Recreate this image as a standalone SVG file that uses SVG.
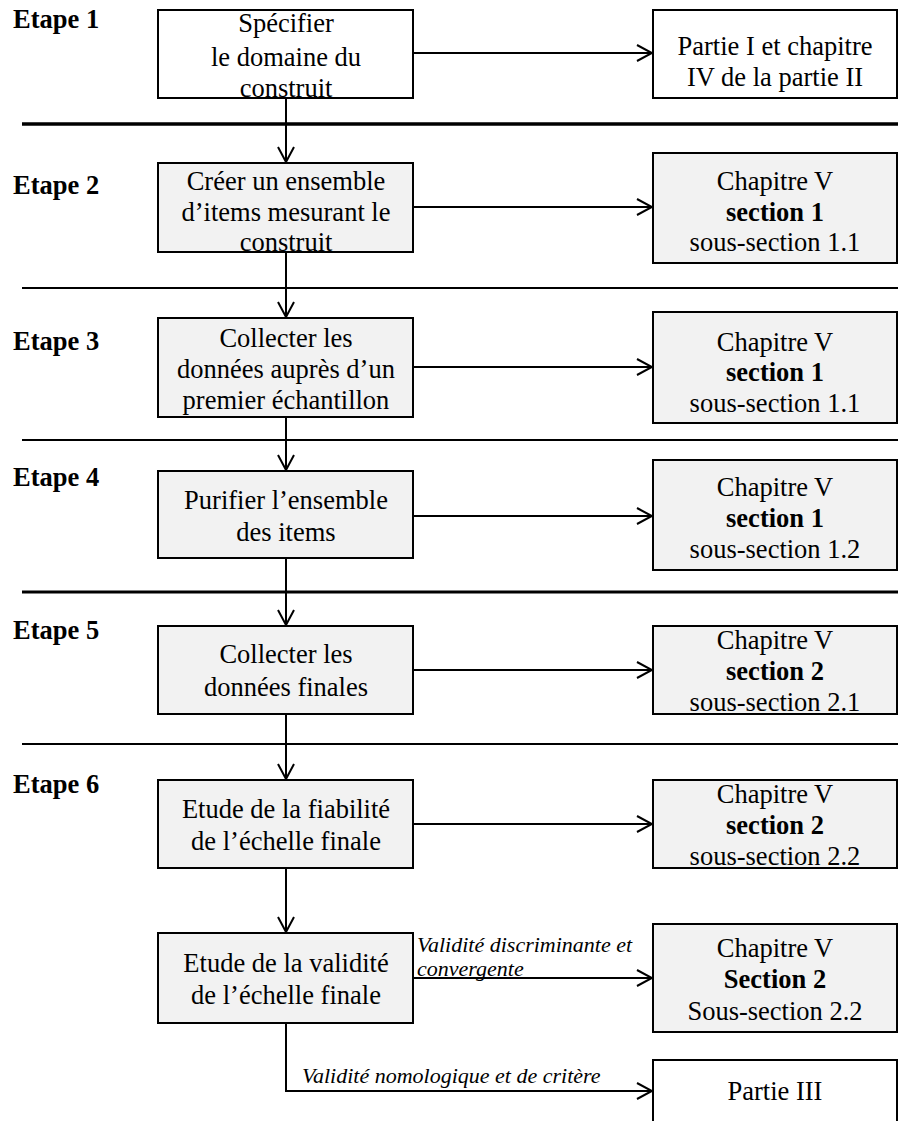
<svg xmlns="http://www.w3.org/2000/svg" width="898" height="1121" viewBox="0 0 898 1121">
<defs>
<marker id="arr" markerWidth="18" markerHeight="20" refX="16" refY="9" orient="auto" markerUnits="userSpaceOnUse">
<path d="M1,1 L16,9 L1,17" fill="none" stroke="#000" stroke-width="2"/>
</marker>
<style>
.box{fill:#f2f2f2;stroke:#000;stroke-width:2}
.wbox{fill:#fff;stroke:#000;stroke-width:2}
.t{font-family:"Liberation Serif","Times New Roman",serif;font-size:26.5px;fill:#000;text-anchor:middle}
.b{font-weight:bold}
.step{font-family:"Liberation Serif","Times New Roman",serif;font-size:26.5px;font-weight:bold;fill:#000}
.lbl{font-family:"Liberation Serif","Times New Roman",serif;font-size:22px;font-style:italic;fill:#000}
.c{fill:none;stroke:#000;stroke-width:2}
.sep{stroke:#000}
</style>
</defs>
<rect width="898" height="1121" fill="#fff"/>

<g id="separators">
<line class="sep" x1="22" y1="124" x2="898" y2="124" stroke-width="3.5"/>
<line class="sep" x1="22" y1="288" x2="898" y2="288" stroke-width="1.8"/>
<line class="sep" x1="22" y1="440" x2="898" y2="440" stroke-width="2"/>
<line class="sep" x1="22" y1="592" x2="898" y2="592" stroke-width="3"/>
<line class="sep" x1="22" y1="744" x2="898" y2="744" stroke-width="1.8"/>
</g>

<g id="steps">
<text class="step" x="13" y="28">Etape 1</text>
<text class="step" x="13" y="194">Etape 2</text>
<text class="step" x="13" y="350">Etape 3</text>
<text class="step" x="13" y="486">Etape 4</text>
<text class="step" x="13" y="639">Etape 5</text>
<text class="step" x="13" y="793">Etape 6</text>
</g>

<g id="connectors">
<line class="c" x1="286" y1="98" x2="286" y2="162" marker-end="url(#arr)"/>
<line class="c" x1="286" y1="252" x2="286" y2="317" marker-end="url(#arr)"/>
<line class="c" x1="286" y1="417" x2="286" y2="470" marker-end="url(#arr)"/>
<line class="c" x1="286" y1="558" x2="286" y2="625" marker-end="url(#arr)"/>
<line class="c" x1="286" y1="714" x2="286" y2="779" marker-end="url(#arr)"/>
<line class="c" x1="286" y1="868" x2="286" y2="932" marker-end="url(#arr)"/>
<line class="c" x1="413" y1="53" x2="652" y2="53" marker-end="url(#arr)"/>
<line class="c" x1="413" y1="207" x2="652" y2="207" marker-end="url(#arr)"/>
<line class="c" x1="413" y1="367" x2="652" y2="367" marker-end="url(#arr)"/>
<line class="c" x1="413" y1="516" x2="652" y2="516" marker-end="url(#arr)"/>
<line class="c" x1="413" y1="670" x2="652" y2="670" marker-end="url(#arr)"/>
<line class="c" x1="413" y1="824" x2="652" y2="824" marker-end="url(#arr)"/>
<line class="c" x1="413" y1="978" x2="652" y2="978" marker-end="url(#arr)"/>
<polyline class="c" points="286,1023 286,1091 652,1091" marker-end="url(#arr)"/>
<text class="lbl" x="417" y="952">Validité discriminante et</text>
<text class="lbl" x="417" y="976">convergente</text>
<text class="lbl" x="302" y="1083">Validité nomologique et de critère</text>
</g>

<g id="n1">
<rect class="wbox" x="158" y="10" width="255" height="88"/>
<text class="t" x="286" y="32">Spécifier</text>
<text class="t" x="286" y="66">le domaine du</text>
<text class="t" x="286" y="97">construit</text>
</g>
<g id="n2">
<rect class="box" x="158" y="163" width="255" height="89"/>
<text class="t" x="286" y="190">Créer un ensemble</text>
<text class="t" x="286" y="221">d’items mesurant le</text>
<text class="t" x="286" y="251">construit</text>
</g>
<g id="n3">
<rect class="box" x="158" y="318" width="255" height="99"/>
<text class="t" x="286" y="347">Collecter les</text>
<text class="t" x="286" y="378">données auprès d’un</text>
<text class="t" x="286" y="409">premier échantillon</text>
</g>
<g id="n4">
<rect class="box" x="158" y="471" width="255" height="87"/>
<text class="t" x="286" y="509">Purifier l’ensemble</text>
<text class="t" x="286" y="541">des items</text>
</g>
<g id="n5">
<rect class="box" x="158" y="626" width="255" height="88"/>
<text class="t" x="286" y="663">Collecter les</text>
<text class="t" x="286" y="696">données finales</text>
</g>
<g id="n6">
<rect class="box" x="158" y="780" width="255" height="88"/>
<text class="t" x="286" y="818">Etude de la fiabilité</text>
<text class="t" x="286" y="850">de l’échelle finale</text>
</g>
<g id="n7">
<rect class="box" x="158" y="933" width="255" height="90"/>
<text class="t" x="286" y="972">Etude de la validité</text>
<text class="t" x="286" y="1004">de l’échelle finale</text>
</g>

<g id="r1">
<rect class="wbox" x="653" y="10" width="244" height="88"/>
<text class="t" x="775" y="55">Partie I et chapitre</text>
<text class="t" x="775" y="86">IV de la partie II</text>
</g>
<g id="r2">
<rect class="box" x="653" y="153" width="244" height="110"/>
<text class="t" x="775" y="190">Chapitre V</text>
<text class="t b" x="775" y="221">section 1</text>
<text class="t" x="775" y="251">sous-section 1.1</text>
</g>
<g id="r3">
<rect class="box" x="653" y="312" width="244" height="111"/>
<text class="t" x="775" y="351">Chapitre V</text>
<text class="t b" x="775" y="381">section 1</text>
<text class="t" x="775" y="412">sous-section 1.1</text>
</g>
<g id="r4">
<rect class="box" x="653" y="460" width="244" height="110"/>
<text class="t" x="775" y="496">Chapitre V</text>
<text class="t b" x="775" y="527">section 1</text>
<text class="t" x="775" y="558">sous-section 1.2</text>
</g>
<g id="r5">
<rect class="box" x="653" y="626" width="244" height="88"/>
<text class="t" x="775" y="649">Chapitre V</text>
<text class="t b" x="775" y="680">section 2</text>
<text class="t" x="775" y="711">sous-section 2.1</text>
</g>
<g id="r6">
<rect class="box" x="653" y="780" width="244" height="88"/>
<text class="t" x="775" y="803">Chapitre V</text>
<text class="t b" x="775" y="834">section 2</text>
<text class="t" x="775" y="865">sous-section 2.2</text>
</g>
<g id="r7">
<rect class="box" x="653" y="924" width="244" height="108"/>
<text class="t" x="775" y="957">Chapitre V</text>
<text class="t b" x="775" y="988">Section 2</text>
<text class="t" x="775" y="1020">Sous-section 2.2</text>
</g>
<g id="r8">
<rect class="wbox" x="653" y="1060" width="244" height="80"/>
<text class="t" x="775" y="1100">Partie III</text>
</g>
</svg>
